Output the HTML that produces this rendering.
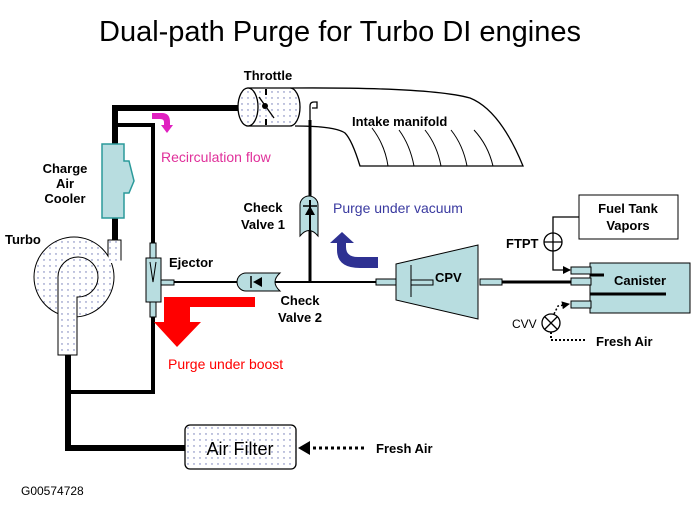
<!DOCTYPE html>
<html><head><meta charset="utf-8"><style>
body{margin:0;background:#fff}
svg{display:block}
text{font-family:"Liberation Sans",Arial,sans-serif}
.b{font-weight:bold;font-size:13px;fill:#000}
</style></head><body>
<svg width="700" height="511" viewBox="0 0 700 511" xmlns="http://www.w3.org/2000/svg">
<defs>
<pattern id="dots" width="6" height="6" patternUnits="userSpaceOnUse"><rect width="6" height="6" fill="#fff"/><circle cx="2" cy="2" r="0.7" fill="#6670b0"/></pattern>
<marker id="ah" markerWidth="8" markerHeight="8" refX="7" refY="4" orient="auto" markerUnits="userSpaceOnUse"><path d="M0,0 L8,4 L0,8z" fill="#000"/></marker>
</defs>
<text x="340" y="41" text-anchor="middle" font-size="29">Dual-path Purge for Turbo DI engines</text>

<!-- thick pipes -->
<path d="M68,350 V448 H186" stroke="#000" stroke-width="6" fill="none"/>
<path d="M115,245 V108 H238" stroke="#000" stroke-width="6" fill="none"/>
<path d="M118,125 H153 V392 H68" stroke="#000" stroke-width="4" fill="none"/>

<!-- charge air cooler -->
<path d="M102,144 H124 V161 H129 L134,181 L129,193 H124 V218 H102 Z" fill="#b8dde0" stroke="#2a9a9a" stroke-width="1.5"/>
<text class="b" x="65" y="173" text-anchor="middle">Charge</text>
<text class="b" x="65" y="188" text-anchor="middle">Air</text>
<text class="b" x="65" y="203" text-anchor="middle">Cooler</text>

<!-- turbo -->
<rect x="108" y="240" width="13" height="20" fill="url(#dots)" stroke="#000"/>
<circle cx="74" cy="277" r="40" fill="url(#dots)" stroke="#000"/>
<rect x="108.5" y="241" width="12" height="22" fill="url(#dots)"/>
<path d="M58,355 V277 A20,20 0 1 1 77,297 V355 Z" fill="url(#dots)" stroke="#000"/>
<text class="b" x="5" y="244" font-size="14">Turbo</text>

<!-- ejector -->
<rect x="150" y="243" width="6" height="15" fill="#b8dde0" stroke="#000"/>
<rect x="150" y="302" width="6" height="15" fill="#b8dde0" stroke="#000"/>
<rect x="146" y="258" width="15" height="44" fill="#b8dde0" stroke="#000"/>
<path d="M150,262 L153,282 L156,262" stroke="#000" fill="none"/>
<rect x="161" y="280" width="13" height="5" fill="#b8dde0" stroke="#000"/>
<text class="b" x="169" y="267">Ejector</text>

<!-- throttle & manifold -->
<path d="M290,88 Q430,87 470,98 Q500,110 523,166 H360 Q352,140 345,133 Q335,126 295,126" fill="none" stroke="#000" stroke-width="1.3"/>
<path d="M372,128 Q385,145 388,166 M399,130 Q410,145 414,166 M425,130 Q437,145 441,166 M451,130 Q463,145 467,166 M474,130 Q488,145 493,166" fill="none" stroke="#000" stroke-width="1"/>
<path d="M248,88 H290 A10,19 0 0 1 290,126 H248 Z" fill="url(#dots)" stroke="#000" stroke-width="1.3"/>
<ellipse cx="248" cy="107" rx="10" ry="19" fill="url(#dots)" stroke="#000" stroke-width="1.3"/>
<line x1="266" y1="89" x2="266" y2="95" stroke="#000" stroke-width="2"/>
<line x1="266" y1="119" x2="266" y2="125" stroke="#000" stroke-width="2"/>
<line x1="259" y1="97" x2="274" y2="118" stroke="#000" stroke-width="1.3"/>
<circle cx="265" cy="106" r="3" fill="#000"/>
<text class="b" x="268" y="80" text-anchor="middle" font-size="12">Throttle</text>
<text class="b" x="352" y="126" font-size="14">Intake manifold</text>

<!-- vacuum line -->
<path d="M310,282 V106 Q310,102 314,102 H317 V108 H312" stroke="#000" stroke-width="1.3" fill="none"/>
<line x1="310" y1="120" x2="310" y2="282" stroke="#000" stroke-width="3"/>
<path d="M300,236 V205 A9,9 0 0 1 318,205 V236 Q309,225 300,236 Z" fill="#b8dde0" stroke="#000"/>
<line x1="310" y1="200" x2="310" y2="236" stroke="#000" stroke-width="2"/>
<path d="M305,215 L310,206 L315,215 Z" fill="#000"/>
<line x1="303" y1="206" x2="317" y2="206" stroke="#000" stroke-width="1.5"/>
<text class="b" x="263" y="212" text-anchor="middle" font-size="14">Check</text>
<text class="b" x="263" y="229" text-anchor="middle" font-size="14">Valve 1</text>

<!-- horizontal purge line -->
<line x1="174" y1="282" x2="376" y2="282" stroke="#000" stroke-width="2"/>
<path d="M280,273 H246 A9,9 0 0 0 246,291 H280 Q270,282 280,273 Z" fill="#b8dde0" stroke="#000"/>
<path d="M262,277 L253,282 L262,287 Z" fill="#000"/>
<line x1="251" y1="276" x2="251" y2="288" stroke="#000" stroke-width="1.5"/>
<text class="b" x="300" y="305" text-anchor="middle" font-size="14">Check</text>
<text class="b" x="300" y="322" text-anchor="middle" font-size="14">Valve 2</text>

<!-- CPV -->
<rect x="376" y="279" width="22" height="6" fill="#b8dde0" stroke="#000"/>
<path d="M396,264 L478,245 V319 L396,300 Z" fill="#b8dde0" stroke="#000"/>
<line x1="411" y1="265" x2="411" y2="297" stroke="#000"/>
<rect x="411" y="280" width="22" height="5" fill="#b8dde0" stroke="#000"/>
<text class="b" x="435" y="282" font-size="14">CPV</text>
<rect x="480" y="279" width="22" height="6" fill="#b8dde0" stroke="#000"/>
<line x1="502" y1="282" x2="572" y2="282" stroke="#000" stroke-width="3"/>

<!-- canister -->
<rect x="590" y="263" width="100" height="50" fill="#b8dde0" stroke="#000"/>
<rect x="571" y="267" width="20" height="7" fill="#b8dde0" stroke="#000"/>
<rect x="571" y="278" width="20" height="7" fill="#b8dde0" stroke="#000"/>
<rect x="571" y="301" width="20" height="7" fill="#b8dde0" stroke="#000"/>
<line x1="590" y1="275" x2="604" y2="275" stroke="#000" stroke-width="3"/>
<line x1="590" y1="294" x2="666" y2="294" stroke="#000" stroke-width="3"/>
<text class="b" x="614" y="285" font-size="14">Canister</text>

<!-- fuel tank -->
<rect x="579" y="195" width="99" height="44" fill="#fff" stroke="#000"/>
<text class="b" x="628" y="213" text-anchor="middle" font-size="14">Fuel Tank</text>
<text class="b" x="628" y="230" text-anchor="middle" font-size="14">Vapors</text>
<path d="M579,217 H553 V234" stroke="#000" fill="none" stroke-width="1.3"/>
<circle cx="553" cy="242" r="9" fill="#fff" stroke="#000" stroke-width="1.3"/>
<path d="M544,242 H562 M553,233 V251" stroke="#000" stroke-width="1.3"/>
<path d="M553,251 V270 H570" stroke="#000" fill="none" stroke-width="1.3" marker-end="url(#ah)"/>
<text class="b" x="506" y="248" font-size="12" font-weight="normal">FTPT</text>

<!-- CVV -->
<circle cx="551" cy="323" r="9" fill="#fff" stroke="#000" stroke-width="1.3"/>
<path d="M545,317 L557,329 M557,317 L545,329" stroke="#000" stroke-width="1.3"/>
<path d="M554,314 L558,306 L569,304" stroke="#000" stroke-dasharray="2,2" fill="none" stroke-width="1.5" marker-end="url(#ah)"/>
<path d="M551,332 V340 H585" stroke="#000" stroke-dasharray="2,2" fill="none" stroke-width="2"/>
<text x="512" y="328" font-size="12">CVV</text>
<text class="b" x="596" y="346" font-size="14">Fresh Air</text>

<!-- arrows -->
<path d="M378,257 H358 Q346,257 346,247 V243 H354 L342,232 L330,243 H337 V250 Q337,268 360,268 H378 Z" fill="#2e3192"/>
<text x="333" y="213" font-size="14" fill="#3a3aa0">Purge under vacuum</text>
<path d="M255,297 H164 V322 H154 L177,347 L201,322 H190 V307 H255 Z" fill="#f00"/>
<text x="168" y="369" font-size="14" fill="#f00">Purge under boost</text>
<path d="M152,113 H162 Q170,113 170,122 V125 H173 L167,133 L161,125 H164 V122 Q164,119 160,119 H152 Z" fill="#e020c0"/>
<text x="161" y="162" font-size="14" fill="#e0309a">Recirculation flow</text>

<!-- air filter -->
<rect x="185" y="425" width="111" height="44" rx="5" fill="url(#dots)" stroke="#000" stroke-width="1.3"/>
<text x="240" y="455" text-anchor="middle" font-size="18">Air Filter</text>
<path d="M364,448 H300" stroke="#000" stroke-width="3" stroke-dasharray="3,3" fill="none"/>
<path d="M298,448 L310,441 V455 Z" fill="#000"/>
<text class="b" x="376" y="453" font-size="14">Fresh Air</text>

<text x="21" y="495" font-size="12">G00574728</text>
</svg>
</body></html>
